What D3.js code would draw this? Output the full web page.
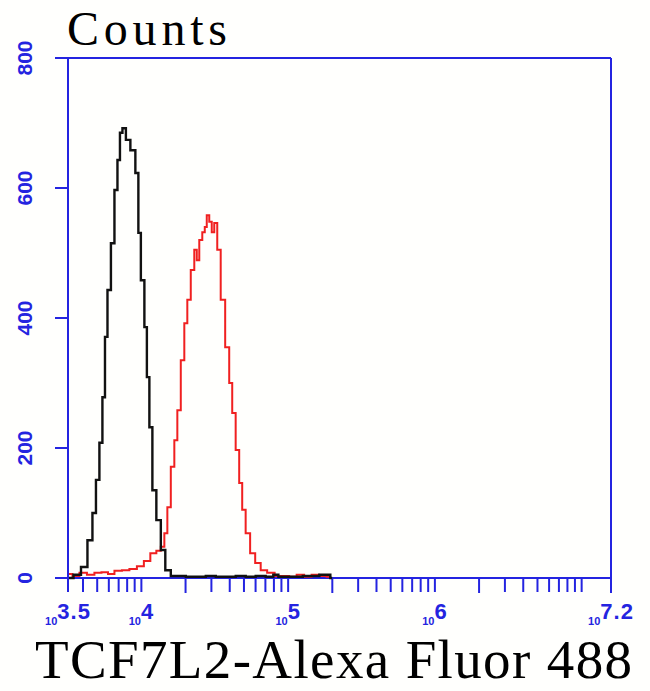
<!DOCTYPE html>
<html><head><meta charset="utf-8">
<script src="https://cdn.jsdelivr.net/npm/d3@7"></script>
<style>html,body{margin:0;padding:0;background:#fffffd;} svg{display:block}</style>
</head><body><svg id="c" width="650" height="691"></svg>
<script>
// ---- data (log10 fluorescence, counts) ----
const isotypeLogFL = [3.507,3.568,3.609,3.656,3.677,3.704,3.724,3.745,3.759,3.779,3.806,3.827,3.847,3.861,3.881,3.908,3.942,3.976,3.983,4.010,4.031,4.044,4.065,4.085,4.119,4.146,4.180,4.221,4.269,4.337,4.405,4.473,4.541,4.609,4.677,4.745,4.813,4.881,4.917,4.950,5.050,5.150,5.275,5.300];
const isotypeCounts = [0,5,17,58,100,151,208,278,371,443,515,597,643,685,692,674,658,623,531,458,386,309,232,135,89,43,12,3,3,2,2,3,2,2,3,2,3,2,5,2,2,3,5,0];
const tcfLogFL = [3.507,3.554,3.602,3.656,3.704,3.752,3.793,3.840,3.895,3.942,3.997,4.037,4.085,4.119,4.146,4.167,4.187,4.214,4.235,4.255,4.282,4.303,4.323,4.350,4.371,4.384,4.405,4.425,4.439,4.452,4.473,4.486,4.507,4.527,4.554,4.588,4.609,4.629,4.656,4.677,4.697,4.724,4.758,4.793,4.833,4.881,4.935,4.983,5.031,5.085,5.133,5.187,5.235,5.289];
const tcfCounts = [6,3,8,5,8,9,6,11,12,14,18,26,38,42,48,69,109,171,212,258,335,392,428,474,505,489,520,532,540,558,548,532,546,505,428,355,300,254,197,146,105,69,38,23,12,8,3,3,2,5,2,5,3,2];
const yTickValues = [0,200,400,600,800];
const xLabelExponents = ["3.5","4","5","6","7.2"];
const majorTickExponents = [4.30103,5.30103,6.30103,7.2];
const minorMultipliers = [3,4,5,6,7,8,9,10];
const minorDecades = [1e3,1e4,1e5,1e6];
const yTitle = "Counts";
const xTitle = "TCF7L2-Alexa Fluor 488";

// ---- layout ----
const L = 68, R = 611, T = 58, B = 578;
const blue = "#2424e0";
const svg = d3.select("#c");
svg.append("rect").attr("width",650).attr("height",691).attr("fill","#fffffd");

const x = d3.scaleLog().domain([Math.pow(10,3.5), Math.pow(10,7.2)]).range([L,R]);
const y = d3.scaleLinear().domain([0,800]).range([B,T]);

// frame
const ax = svg.append("g").attr("stroke",blue).attr("stroke-width",2).attr("fill","none");
ax.append("line").attr("x1",L).attr("x2",L).attr("y1",T).attr("y2",592);
ax.append("line").attr("x1",55).attr("x2",R).attr("y1",B).attr("y2",B);
ax.append("line").attr("x1",55).attr("x2",R).attr("y1",T).attr("y2",T);
ax.append("line").attr("x1",R).attr("x2",R).attr("y1",T).attr("y2",B);

// y ticks
yTickValues.forEach(v=>{
  ax.append("line").attr("x1",55).attr("x2",L).attr("y1",y(v)).attr("y2",y(v));
  svg.append("text").attr("transform",`translate(32,${y(v)}) rotate(-90)`)
    .attr("text-anchor","middle").attr("font-family","Liberation Sans, Arial, sans-serif")
    .attr("font-weight","bold").attr("font-size",21).attr("fill",blue).text(v);
});

// x ticks
const minorVals = [];
minorDecades.forEach(d=>minorMultipliers.forEach(k=>{const v=k*d; if(v>x.domain()[0] && v<x.domain()[1]) minorVals.push(v);}));
minorVals.forEach(v=>{
  ax.append("line").attr("x1",x(v)).attr("x2",x(v)).attr("y1",B).attr("y2",592);
});
majorTickExponents.forEach(e=>{
  const v=Math.pow(10,e);
  ax.append("line").attr("x1",x(v)).attr("x2",x(v)).attr("y1",B).attr("y2",593);
});

// x labels
xLabelExponents.forEach(e=>{
  const t = svg.append("text").attr("x",x(Math.pow(10,+e))).attr("y",625)
    .attr("text-anchor","middle").attr("font-family","Liberation Sans, Arial, sans-serif")
    .attr("font-weight","bold").attr("fill",blue);
  t.append("tspan").attr("font-size",11).text("10");
  t.append("tspan").attr("font-size",22).attr("dy",-6).attr("letter-spacing",1).text(e);
});

// curves
const line = d3.line().curve(d3.curveStep)
  .x(d=>x(Math.pow(10,d[0]))).y(d=>y(d[1]));
svg.append("path").datum(d3.zip(tcfLogFL,tcfCounts)).attr("d",line)
  .attr("fill","none").attr("stroke","#f02020").attr("stroke-width",2);
svg.append("path").datum(d3.zip(isotypeLogFL,isotypeCounts)).attr("d",line)
  .attr("fill","none").attr("stroke","#111").attr("stroke-width",2.4);

// titles
svg.append("text").attr("x",67).attr("y",45).attr("font-family","Liberation Serif, serif")
  .attr("font-size",48).attr("textLength",160).attr("lengthAdjust","spacing").attr("fill","#000").text(yTitle);
svg.append("text").attr("x",35).attr("y",678).attr("font-family","Liberation Serif, serif")
  .attr("font-size",55).attr("textLength",597).attr("lengthAdjust","spacing").attr("fill","#000").text(xTitle);
</script></body></html>
